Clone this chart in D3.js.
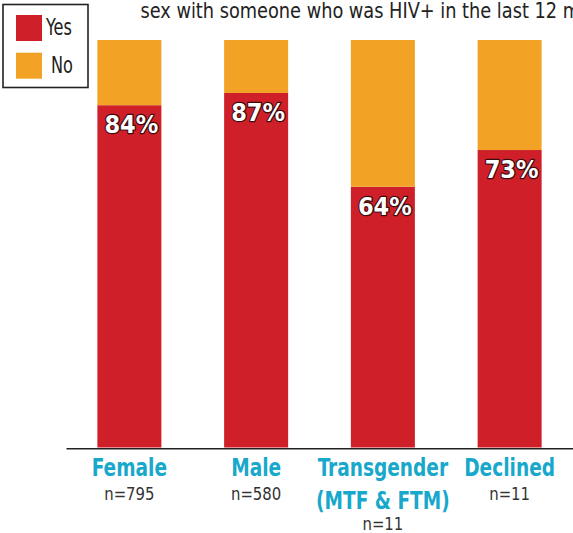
<!DOCTYPE html>
<html>
<head>
<meta charset="utf-8">
<script src="https://cdn.jsdelivr.net/npm/d3@7"></script>
<style>
  html, body { margin: 0; padding: 0; background: #fff; overflow: hidden; }
  svg { display: block; }
</style>
</head>
<body>
<script>
// ---- data ----
const categories = ["Female", "Male", "Transgender|(MTF & FTM)", "Declined"];
const sampleSizes = ["n=795", "n=580", "n=11", "n=11"];
const yesValues = [84, 87, 64, 73];
const noValues = [16, 13, 36, 27];
const seriesNames = ["Yes", "No"];
const titleText = "sex with someone who was HIV+ in the last 12 months";

// ---- setup ----
const W = 573, H = 533;
const colors = { Yes: "#CF2029", No: "#F2A326" };
const catColor = "#18A8CB";

const svg = d3.select("body").append("svg").attr("width", W).attr("height", H);

const x = d3.scaleBand().domain(categories).range([66, 573])
  .paddingInner(0.495).paddingOuter(0.2475);
const y = d3.scaleLinear().domain([0, 100]).range([447.5, 40]);

const rows = categories.map((c, i) => ({ cat: c, Yes: yesValues[i], No: noValues[i], n: sampleSizes[i] }));
const stacked = d3.stack().keys(seriesNames)(rows);

// bars
svg.append("g").selectAll("g").data(stacked).join("g")
  .attr("fill", d => colors[d.key])
  .selectAll("rect").data(d => d).join("rect")
  .attr("x", d => x(d.data.cat))
  .attr("width", x.bandwidth())
  .attr("y", d => y(d[1]))
  .attr("height", d => y(d[0]) - y(d[1]));

// axis
const axis = svg.append("g").attr("transform", "translate(0,448.3)")
  .call(d3.axisBottom(x).tickSize(0).tickFormat(""));
axis.select(".domain").attr("stroke", "#222").attr("stroke-width", 1.6);

// percent labels
svg.append("g").selectAll("text").data(rows).join("text")
  .attr("x", d => x(d.cat) + x.bandwidth() / 2 + 2)
  .attr("y", d => y(d.Yes) + 28)
  .attr("text-anchor", "middle")
  .attr("font-family", "'DejaVu Sans Condensed', 'DejaVu Sans', sans-serif")
  .attr("font-weight", "bold")
  .attr("font-size", 25)
  .attr("fill", "#fff")
  .attr("stroke", "#3b0b0e")
  .attr("stroke-width", 2.4)
  .attr("paint-order", "stroke")
  .attr("stroke-linejoin", "round")
  .text(d => d.Yes + "%");

// category labels
const catG = svg.append("g");
rows.forEach(d => {
  const cx = x(d.cat) + x.bandwidth() / 2;
  const lines = d.cat.split("|");
  lines.forEach((ln, k) => {
    catG.append("text")
      .attr("transform", `translate(${cx},${476 + k * 33}) scale(0.86,1)`)
      .attr("text-anchor", "middle")
      .attr("font-family", "'DejaVu Sans Condensed', 'DejaVu Sans', sans-serif")
      .attr("font-weight", "bold")
      .attr("font-size", 24)
      .attr("fill", catColor)
      .text(ln);
  });
  catG.append("text")
    .attr("transform", `translate(${cx},${lines.length > 1 ? 530 : 500}) scale(0.92,1)`)
    .attr("text-anchor", "middle")
    .attr("font-family", "'DejaVu Sans Condensed', 'DejaVu Sans', sans-serif")
    .attr("font-size", 18)
    .attr("fill", "#333")
    .text(d.n);
});

// title (partially cut by the right edge, as in the reference)
const title = svg.append("text")
  .attr("font-family", "'DejaVu Sans Condensed', 'DejaVu Sans', sans-serif")
  .attr("font-size", 21)
  .attr("fill", "#222")
  .text(titleText);
{
  const node = title.node();
  const idx = titleText.indexOf("months");
  const sub = node.getSubStringLength(0, idx);
  const sx = (563 - 140.5) / sub;
  title.attr("transform", `translate(140.5,17.5) scale(${sx},1)`);
}

// legend
const lg = svg.append("g");
lg.append("rect").attr("x", 3).attr("y", 4.5).attr("width", 85).attr("height", 83)
  .attr("fill", "#fff").attr("stroke", "#222").attr("stroke-width", 1.6);
seriesNames.forEach((s, i) => {
  lg.append("rect").attr("x", 16).attr("y", 15 + i * 37.7).attr("width", 26).attr("height", 26)
    .attr("fill", colors[s]);
  lg.append("text")
    .attr("transform", `translate(${i === 0 ? 46 : 51},${35 + i * 37.7}) scale(0.78,1)`)
    .attr("font-family", "'DejaVu Sans Condensed', 'DejaVu Sans', sans-serif")
    .attr("font-size", 23)
    .attr("fill", "#222")
    .text(s);
});
</script>
</body>
</html>
